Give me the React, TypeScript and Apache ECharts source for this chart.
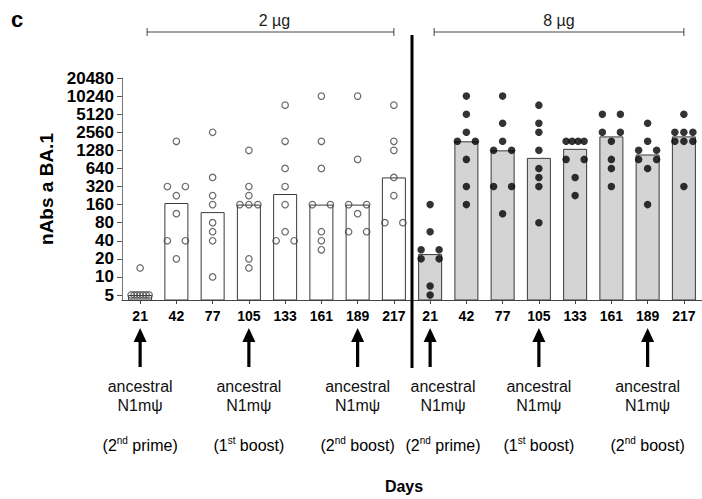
import React, { useEffect, useRef } from 'react';
import * as echarts from 'echarts';

// ---------- data ----------
const days = ['21', '42', '77', '105', '133', '161', '189', '217'];

// individual animals, 2 µg group (open circles)
const dose2ugPoints: number[][] = [
  [5, 5, 5, 5, 5, 5, 5, 14.1],
  [1810, 320, 320, 226, 113, 40, 40, 20],
  [2560, 453, 226, 160, 80, 56.6, 40, 10],
  [1280, 320, 226, 160, 160, 160, 20, 14.1],
  [7240, 1810, 640, 320, 160, 56.6, 40, 40],
  [10240, 1810, 640, 160, 160, 56.6, 40, 28.3],
  [10240, 905, 160, 160, 113, 56.6, 56.6],
  [7240, 1810, 1280, 453, 226, 80, 80],
];

// individual animals, 8 µg group (filled circles)
const dose8ugPoints: number[][] = [
  [160, 56.6, 28.3, 28.3, 20, 20, 7.07, 5],
  [10240, 5120, 2560, 1810, 1810, 905, 320, 160],
  [10240, 3620, 1810, 1280, 1280, 320, 320, 113],
  [7240, 3620, 2560, 1280, 640, 453, 320, 80],
  [1810, 1810, 1810, 1810, 905, 905, 453, 226],
  [5120, 5120, 2560, 2560, 1810, 905, 640, 320],
  [3620, 1810, 1280, 1280, 905, 905, 640, 160],
  [5120, 2560, 2560, 2560, 1810, 1810, 1810, 320],
];

// bar heights (medians)
const dose2ugMedians = [5, 170, 120, 160, 240, 160, 160, 453];
const dose8ugMedians = [24, 1810, 1280, 960, 1357, 2185, 1092, 2185];

const yTickValues = [5, 10, 20, 40, 80, 160, 320, 640, 1280, 2560, 5120, 10240, 20480];
const doseLabels = ['2 µg', '8 µg'];
const immunizationDays = ['21', '105', '189'];
const immunizationLine1 = 'ancestral';
const immunizationLine2 = 'N1mψ';
const immunizationRich = [
  '{a|(2}{s|nd}{a| prime)}',
  '{a|(1}{s|st}{a| boost)}',
  '{a|(2}{s|nd}{a| boost)}',
];

const FONT = '"Liberation Sans", Arial, sans-serif';

function swarmOffsets(values: number[]): number[] {
  const counts = new Map<number, number>();
  values.forEach((v) => counts.set(v, (counts.get(v) || 0) + 1));
  const seen = new Map<number, number>();
  return values.map((v) => {
    const k = counts.get(v) as number;
    const j = seen.get(v) || 0;
    seen.set(v, j + 1);
    return k === 1 ? 0 : -9 + (18 * j) / (k - 1);
  });
}

export default function App() {
  const ref = useRef<HTMLDivElement>(null);

  useEffect(() => {
    if (!ref.current) return;
    const chart = echarts.init(ref.current, undefined, { renderer: 'svg' });

    const categories = [...days, ...days];

    const barData = [
      ...dose2ugMedians.map((v) => ({ value: v, itemStyle: { color: '#ffffff' } })),
      ...dose8ugMedians.map((v) => ({ value: v, itemStyle: { color: '#d4d4d4' } })),
    ];

    const openData: any[] = [];
    dose2ugPoints.forEach((vals, i) => {
      const offs = swarmOffsets(vals);
      vals.forEach((v, j) => openData.push({ value: [i, v], symbolOffset: [offs[j], 0] }));
    });
    const filledData: any[] = [];
    dose8ugPoints.forEach((vals, i) => {
      const offs = swarmOffsets(vals);
      vals.forEach((v, j) => filledData.push({ value: [i + 8, v], symbolOffset: [offs[j], 0] }));
    });

    chart.setOption({
      animation: false,
      backgroundColor: '#ffffff',
      grid: { left: 122, top: 78, width: 581, height: 222, containLabel: false },
      xAxis: {
        type: 'category',
        data: categories,
        axisLine: { show: true, lineStyle: { color: '#444', width: 1 } },
        axisTick: { show: true, alignWithLabel: true, interval: 0, length: 4, lineStyle: { color: '#444' } },
        axisLabel: {
          interval: 0,
          margin: 9,
          color: '#000',
          fontFamily: FONT,
          fontWeight: 'bold',
          fontSize: 14,
        },
        splitLine: { show: false },
      },
      yAxis: {
        type: 'log',
        logBase: 2,
        min: 4.13,
        max: 20500,
        name: 'nAbs a BA.1',
        nameLocation: 'middle',
        nameGap: 66,
        nameTextStyle: { fontFamily: FONT, fontWeight: 'bold', fontSize: 19, color: '#000' },
        axisLine: { show: true, lineStyle: { color: '#777', width: 1 } },
        axisTick: { show: true, length: 5, customValues: yTickValues, lineStyle: { color: '#555' } },
        axisLabel: {
          customValues: yTickValues,
          margin: 8,
          color: '#000',
          fontFamily: FONT,
          fontWeight: 'bold',
          fontSize: 17,
          lineHeight: 17,
          formatter: (v: number) => String(Math.round(v)),
        },
        splitLine: { show: false },
        minorTick: { show: false },
      },
      series: [
        {
          type: 'bar',
          data: barData,
          barWidth: 24,
          itemStyle: { borderColor: '#3a3a3a', borderWidth: 1 },
          z: 1,
        },
        {
          type: 'scatter',
          data: openData,
          symbol: 'circle',
          symbolSize: 6.5,
          itemStyle: { color: 'rgba(255,255,255,0)', borderColor: '#444', borderWidth: 1.2 },
          z: 3,
        },
        {
          type: 'scatter',
          data: filledData,
          symbol: 'circle',
          symbolSize: 7.5,
          itemStyle: { color: '#000' },
          z: 3,
        },
      ],
    });

    const cx = (i: number) => chart.convertToPixel({ xAxisIndex: 0 }, i) as number;
    const divider = (cx(7) + cx(8)) / 2;

    const graphics: any[] = [];
    // panel letter
    graphics.push({
      type: 'text',
      x: 11,
      y: 19,
      style: { text: 'c', font: `bold 22px ${FONT}`, fill: '#000', verticalAlign: 'middle' },
    });
    // separator line
    graphics.push({
      type: 'line',
      shape: { x1: divider, y1: 35, x2: divider, y2: 368 },
      style: { stroke: '#000', lineWidth: 3 },
      z: 10,
    });
    // dose brackets
    doseLabels.forEach((label, g) => {
      const x1 = cx(8 * g) + (g === 0 ? 7 : 4);
      const x2 = cx(8 * g + 7);
      const y = 32;
      graphics.push({ type: 'line', shape: { x1, y1: y, x2, y2: y }, style: { stroke: '#444', lineWidth: 1 } });
      graphics.push({ type: 'line', shape: { x1, y1: y - 4, x2: x1, y2: y + 4 }, style: { stroke: '#444', lineWidth: 1 } });
      graphics.push({ type: 'line', shape: { x1: x2, y1: y - 4, x2, y2: y + 4 }, style: { stroke: '#444', lineWidth: 1 } });
      graphics.push({
        type: 'text',
        x: (x1 + x2) / 2 + (g === 0 ? 4 : 0),
        y: 20,
        style: { text: label, font: `16px ${FONT}`, fill: '#222', align: 'center', verticalAlign: 'middle' },
      });
    });
    // immunization arrows and labels
    [0, 1].forEach((g) => {
      immunizationDays.forEach((d, k) => {
        const x = cx(8 * g + days.indexOf(d));
        graphics.push({
          type: 'polygon',
          shape: { points: [[x, 328], [x - 6.5, 342], [x + 6.5, 342]] },
          style: { fill: '#000' },
        });
        graphics.push({ type: 'rect', shape: { x: x - 1.6, y: 340, width: 3.2, height: 27 }, style: { fill: '#000' } });
        const tx = g === 1 && k === 0 ? Math.max(x, divider + 31) : x;
        graphics.push({
          type: 'text',
          x: tx,
          y: 386,
          style: { text: immunizationLine1, font: `16px ${FONT}`, fill: '#111', align: 'center', verticalAlign: 'middle' },
        });
        graphics.push({
          type: 'text',
          x: tx,
          y: 405,
          style: { text: immunizationLine2, font: `16px ${FONT}`, fill: '#111', align: 'center', verticalAlign: 'middle' },
        });
        graphics.push({
          type: 'text',
          x: tx,
          y: 445,
          style: {
            text: immunizationRich[k],
            align: 'center',
            verticalAlign: 'middle',
            rich: {
              a: { fontFamily: FONT, fontSize: 16, color: '#111', lineHeight: 20 },
              s: { fontFamily: FONT, fontSize: 10, color: '#111', lineHeight: 12, verticalAlign: 'top' },
            },
          },
        });
      });
    });
    // x axis title
    graphics.push({
      type: 'text',
      x: 404,
      y: 486,
      style: { text: 'Days', font: `bold 16px ${FONT}`, fill: '#000', align: 'center', verticalAlign: 'middle' },
    });

    chart.setOption({ graphic: graphics });

    return () => chart.dispose();
  }, []);

  return (
    <div
      ref={ref}
      style={{ position: 'fixed', left: 0, top: 0, width: 702, height: 499, background: '#fff' }}
    />
  );
}
